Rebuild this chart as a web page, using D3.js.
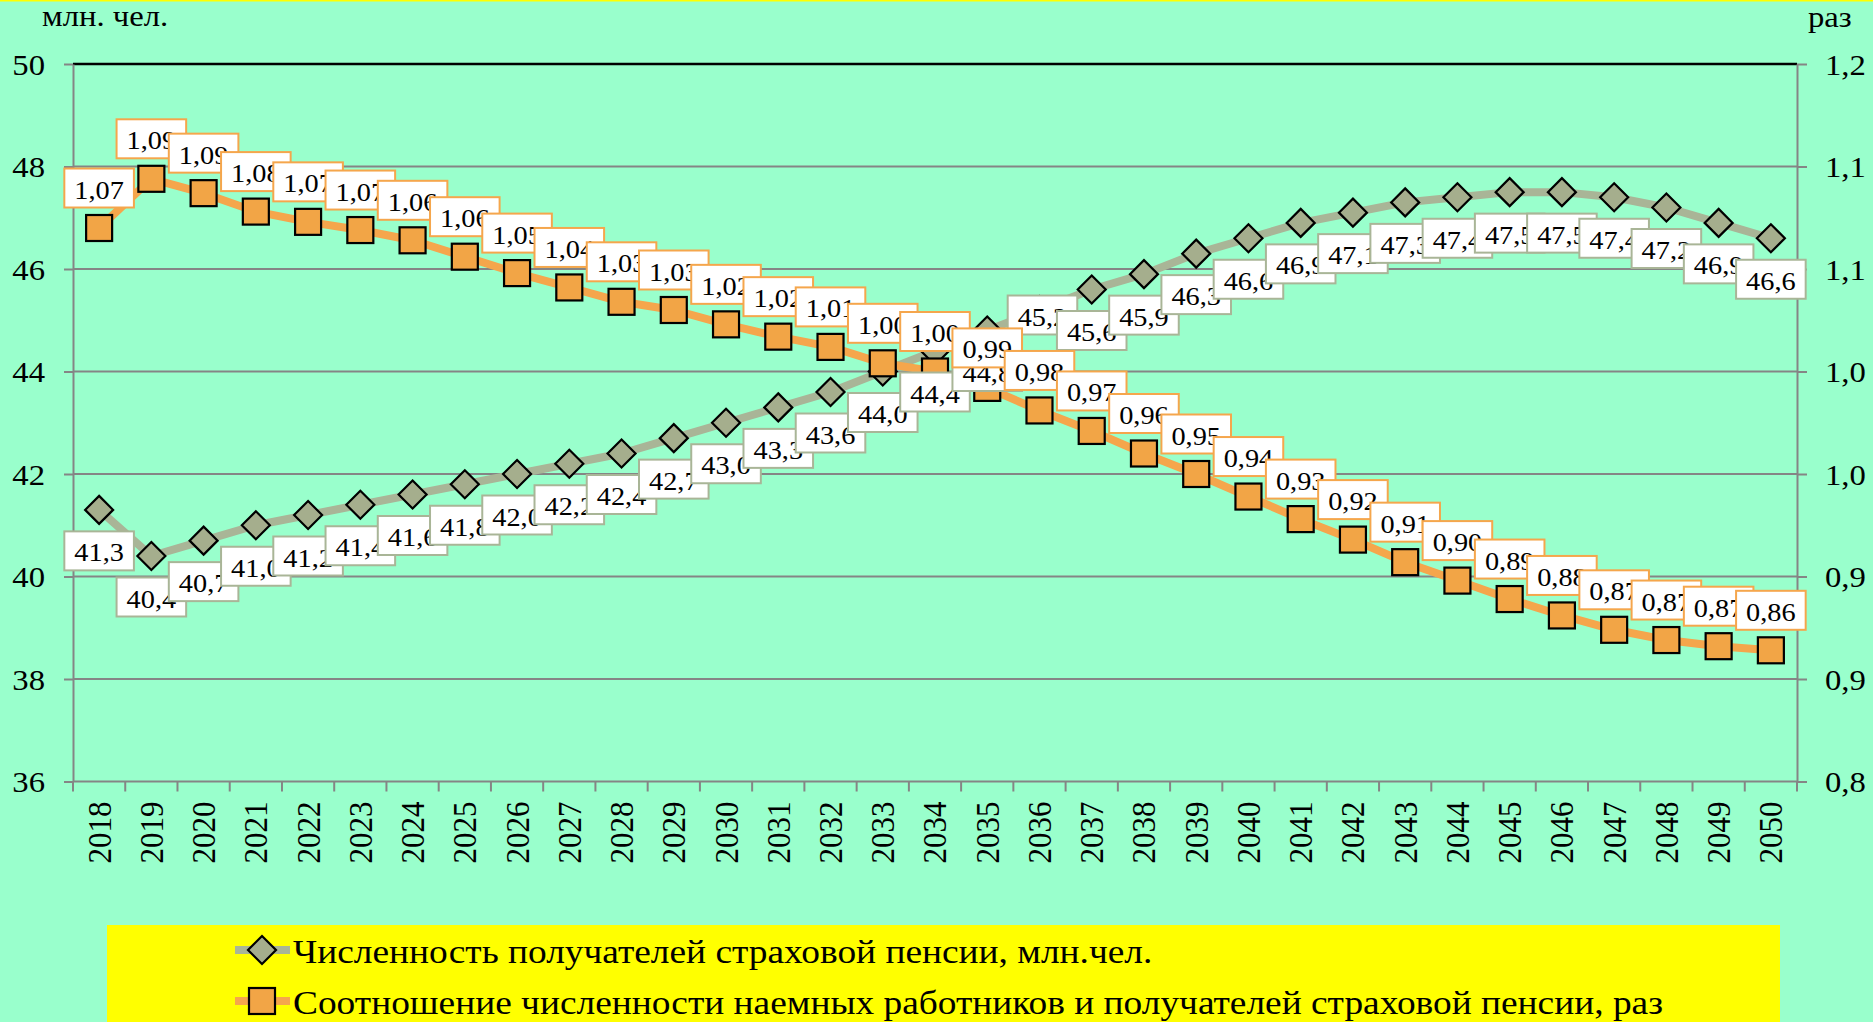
<!DOCTYPE html>
<html>
<head>
<meta charset="utf-8">
<script src="https://cdn.jsdelivr.net/npm/d3@7"></script>
<style>
  body { margin: 0; background: #99ffcc; }
  svg { display: block; }
  text { font-family: "Liberation Serif", "Times New Roman", serif; fill: #000; }
</style>
</head>
<body>
<svg id="chart" width="1873" height="1022"></svg>
<script>
// years on the category axis
var years = d3.range(2018, 2051).map(String);

// pension recipients, mln people (left axis)
var pensioners = [41.3, 40.4, 40.7, 41.0, 41.2, 41.4, 41.6, 41.8, 42.0, 42.2, 42.4,
                  42.7, 43.0, 43.3, 43.6, 44.0, 44.4, 44.8, 45.2, 45.6, 45.9, 46.3,
                  46.6, 46.9, 47.1, 47.3, 47.4, 47.5, 47.5, 47.4, 47.2, 46.9, 46.6];

// ratio workers / pensioners, times (right axis)
var ratio = [1.070, 1.094, 1.087, 1.078, 1.073, 1.069, 1.064, 1.056, 1.048, 1.041, 1.034,
             1.030, 1.023, 1.017, 1.012, 1.004, 1.000, 0.992, 0.981, 0.971, 0.960, 0.950,
             0.939, 0.928, 0.918, 0.907, 0.898, 0.889, 0.881, 0.874, 0.869, 0.866, 0.864];

var leftTicks = [36, 38, 40, 42, 44, 46, 48, 50];
var rightTicks = [0.8, 0.85, 0.9, 0.95, 1.0, 1.05, 1.1, 1.15];
var rightTickLabels = ["0,8", "0,9", "0,9", "1,0", "1,0", "1,1", "1,1", "1,2"];

var legendLabels = [
   "Численность получателей страховой пенсии, млн.чел.",
   "Соотношение численности наемных работников и получателей страховой пенсии, раз"
];

var SX = 1.09;   // text in the picture is a bit wider than it is tall

var greyLine = "#a9b597", greyMark = "#a5ae8d";
var orangeLine = "#f5a64c", orangeMark = "#f2a546";

var svg = d3.select("#chart");
var plot = {left: 73, right: 1797, top: 64, bottom: 781.5};

var x = d3.scaleBand().domain(years).range([plot.left, plot.right]);
var yL = d3.scaleLinear().domain([36, 50]).range([plot.bottom, plot.top]);
var yR = d3.scaleLinear().domain([0.8, 1.15]).range([plot.bottom, plot.top]);
var cx = function(i){ return x(years[i]) + x.bandwidth() / 2; };

function stretch(px, py, rot){
   return "translate(" + px + "," + py + ") scale(" + SX + ",1)" + (rot ? " rotate(-90)" : "");
}

// thin yellow strip at the very top
svg.append("rect").attr("x", 0).attr("y", 0).attr("width", 1873).attr("height", 1.5).attr("fill", "#ffff00");

//gridlines
svg.selectAll("line.grid")
   .data(leftTicks.slice(1))
   .enter()
   .append("line")
   .attr("x1", plot.left).attr("x2", plot.right)
   .attr("y1", function(d){ return yL(d); })
   .attr("y2", function(d){ return yL(d); })
   .attr("stroke", function(d){ return d == 50 ? "#000" : "#858585"; })
   .attr("stroke-width", function(d){ return d == 50 ? 2.5 : 2; });

//left axis
var gL = svg.append("g")
   .attr("transform", "translate(" + plot.left + ",0)")
   .call(d3.axisLeft(yL).tickValues(leftTicks).tickSize(9).tickSizeOuter(0));
gL.select(".domain").attr("stroke", "#858585").attr("stroke-width", 2);
gL.selectAll(".tick line").attr("stroke", "#858585").attr("stroke-width", 2);
gL.selectAll(".tick text")
   .attr("x", 0).attr("dy", null)
   .attr("transform", stretch(-28, 10))
   .attr("text-anchor", "end")
   .style("font-size", "30px");

//right axis
var gR = svg.append("g")
   .attr("transform", "translate(" + plot.right + ",0)")
   .call(d3.axisRight(yR).tickValues(rightTicks).tickSize(10).tickSizeOuter(0)
         .tickFormat(function(d, i){ return rightTickLabels[i]; }));
gR.select(".domain").attr("stroke", "#858585").attr("stroke-width", 2);
gR.selectAll(".tick line").attr("stroke", "#858585").attr("stroke-width", 2);
gR.selectAll(".tick text")
   .attr("x", 0).attr("dy", null)
   .attr("transform", stretch(28, 10))
   .attr("text-anchor", "start")
   .style("font-size", "30px");

//category axis: line, ticks between bands, rotated years
svg.append("line")
   .attr("x1", plot.left).attr("x2", plot.right)
   .attr("y1", plot.bottom).attr("y2", plot.bottom)
   .attr("stroke", "#858585").attr("stroke-width", 2);
svg.selectAll("line.xtick")
   .data(years.map(function(d){ return x(d); }).concat([plot.right]))
   .enter()
   .append("line")
   .attr("x1", function(d){ return d; }).attr("x2", function(d){ return d; })
   .attr("y1", plot.bottom).attr("y2", plot.bottom + 10)
   .attr("stroke", "#858585").attr("stroke-width", 2);
svg.selectAll("text.year")
   .data(years)
   .enter()
   .append("text")
   .attr("class", "year")
   .attr("transform", function(d, i){ return stretch(cx(i), plot.bottom + 20, true); })
   .attr("text-anchor", "end")
   .attr("dy", "0.34em")
   .style("font-size", "31px")
   .text(function(d){ return d; });

//axis units
svg.append("text").attr("transform", stretch(42, 26)).style("font-size", "30px").text("млн. чел.");
svg.append("text").attr("transform", stretch(1808, 27)).style("font-size", "30px").text("раз");

//series lines
var lineL = d3.line().x(function(d, i){ return cx(i); }).y(function(d){ return yL(d); });
var lineR = d3.line().x(function(d, i){ return cx(i); }).y(function(d){ return yR(d); });

svg.append("path").attr("d", lineL(pensioners))
   .attr("fill", "none").attr("stroke", greyLine).attr("stroke-width", 8).attr("stroke-linejoin", "round");
svg.append("path").attr("d", lineR(ratio))
   .attr("fill", "none").attr("stroke", orangeLine).attr("stroke-width", 8).attr("stroke-linejoin", "round");

//markers
function diamond(g, px, py){
   g.append("path")
      .attr("d", "M" + px + "," + (py - 14) + "L" + (px + 14) + "," + py + "L" + px + "," + (py + 14) + "L" + (px - 14) + "," + py + "Z")
      .attr("fill", greyMark).attr("stroke", "#000").attr("stroke-width", 2.2);
}
function square(g, px, py){
   g.append("rect")
      .attr("x", px - 13).attr("y", py - 13).attr("width", 26).attr("height", 26)
      .attr("fill", orangeMark).attr("stroke", "#000").attr("stroke-width", 2.2);
}
var markers = svg.append("g");
pensioners.forEach(function(v, i){ diamond(markers, cx(i), yL(v)); });
ratio.forEach(function(v, i){ square(markers, cx(i), yR(v)); });

//data labels: boxes under diamonds, over squares
function dataLabel(g, px, py, txt, border){
   var lab = g.append("g");
   var box = lab.append("rect");
   var t = lab.append("text")
      .attr("transform", stretch(px, py + 10.5))
      .attr("text-anchor", "middle")
      .style("font-size", "26px")
      .text(txt);
   var w = t.node().getComputedTextLength() * SX + 20;
   box.attr("x", px - w / 2).attr("y", py - 19.5)
      .attr("width", w).attr("height", 39)
      .attr("fill", "#fff").attr("stroke", border).attr("stroke-width", 2);
}
var labels = svg.append("g");
pensioners.forEach(function(v, i){
   //the 2036 label sits on its marker in the original
   var dy = (years[i] == "2036") ? 5 : 41;
   dataLabel(labels, cx(i) + (years[i] == "2036" ? 3 : 0), yL(v) + dy, v.toFixed(1).replace(".", ","), greyLine);
});
ratio.forEach(function(v, i){
   dataLabel(labels, cx(i), yR(v) - 40, v.toFixed(2).replace(".", ","), orangeLine);
});

//legend
var leg = svg.append("g");
leg.append("rect").attr("x", 107).attr("y", 925).attr("width", 1673).attr("height", 100).attr("fill", "#ffff00");
[{y: 950, col: greyLine, mark: diamond}, {y: 1001, col: orangeLine, mark: square}].forEach(function(d, i){
   leg.append("line").attr("x1", 235).attr("x2", 290).attr("y1", d.y).attr("y2", d.y)
      .attr("stroke", d.col).attr("stroke-width", 8);
   d.mark(leg, 262, d.y);
   leg.append("text").attr("transform", stretch(293, d.y + 12.5))
      .style("font-size", "34.3px").text(legendLabels[i]);
});
</script>
</body>
</html>
